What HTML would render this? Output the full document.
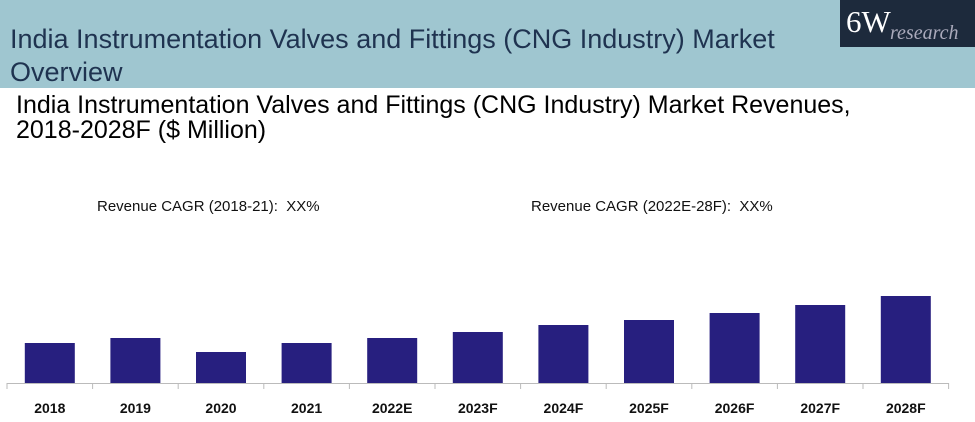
<!DOCTYPE html>
<html><head><meta charset="utf-8"><style>
body{margin:0;width:975px;height:422px;overflow:hidden;background:#fff;font-family:"Liberation Sans",sans-serif;position:relative}
.band{position:absolute;left:0;top:0;width:975px;height:88px;background:#9fc6d0}
.t1{position:absolute;left:10px;top:23px;font-size:27px;line-height:33px;color:#1f3350;letter-spacing:0;white-space:nowrap}
.logo{position:absolute;left:840px;top:0;width:135px;height:47px;background:#1d2a3c}
.sub{position:absolute;left:16px;top:93px;font-size:25px;line-height:25px;color:#000;letter-spacing:0;white-space:nowrap}
.cagr{position:absolute;top:198px;font-size:15px;color:#111}
</style></head><body>
<div class="band"></div>
<div class="t1">India Instrumentation Valves and Fittings (CNG Industry) Market<br>Overview</div>
<div class="logo"><span style="position:absolute;left:6px;top:4px;font-family:'Liberation Serif',serif;font-size:31px;color:#fff">6W</span><span style="position:absolute;left:50px;top:22px;font-family:'Liberation Serif',serif;font-style:italic;font-size:20px;color:#aab">research</span></div>
<div class="sub">India Instrumentation Valves and Fittings (CNG Industry) Market Revenues,<br>2018-2028F ($ Million)</div>
<div class="cagr" style="left:97px">Revenue CAGR (2018-21):&nbsp; XX%</div>
<div class="cagr" style="left:531px">Revenue CAGR (2022E-28F):&nbsp; XX%</div>
<svg id="chart" width="975" height="422" style="position:absolute;left:0;top:0"></svg>
<script>
const categories=["2018","2019","2020","2021","2022E","2023F","2024F","2025F","2026F","2027F","2028F"];
const values=[40,45,31,40,45,51,58,63,70,78,87];
const svg=document.getElementById('chart');
const NS='http://www.w3.org/2000/svg';
const x0=7,step=85.6,base=383,bw=50;
function xScale(i){return x0+step*i+step/2;}
function yScale(v){return base-v;}
values.forEach((v,i)=>{
 const r=document.createElementNS(NS,'rect');
 r.setAttribute('x',xScale(i)-bw/2);r.setAttribute('y',yScale(v));
 r.setAttribute('width',bw);r.setAttribute('height',base-yScale(v));
 r.setAttribute('fill','#271f7f');
 
 
 svg.appendChild(r);
 const t=document.createElementNS(NS,'text');
 t.setAttribute('x',xScale(i));t.setAttribute('y',413);
 t.setAttribute('text-anchor','middle');t.setAttribute('font-size','14');t.setAttribute('font-weight','bold');
 t.setAttribute('font-family','Liberation Sans, sans-serif');t.setAttribute('fill','#111');
 t.textContent=categories[i];
 
 
 svg.appendChild(t);
});
const ax=document.createElementNS(NS,'line');
ax.setAttribute('x1',x0);ax.setAttribute('x2',x0+step*categories.length);
ax.setAttribute('y1',base+0.5);ax.setAttribute('y2',base+0.5);ax.setAttribute('stroke','#bbb');


svg.appendChild(ax);
for(let i=0;i<=categories.length;i++){
 const tk=document.createElementNS(NS,'line');
 tk.setAttribute('x1',x0+step*i);tk.setAttribute('x2',x0+step*i);
 tk.setAttribute('y1',base);tk.setAttribute('y2',base+6);tk.setAttribute('stroke','#bbb');
 
 
 svg.appendChild(tk);
}
</script>
</body></html>
